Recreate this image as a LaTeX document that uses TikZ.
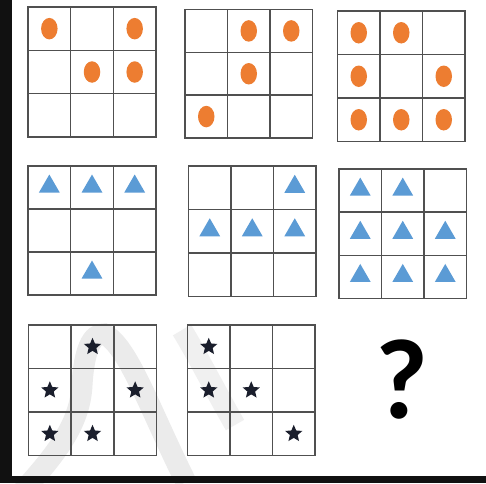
\documentclass[tikz,border=0pt]{standalone}
\usepackage{fontspec}
\newfontfamily\qfont{Carlito}
\usetikzlibrary{shapes.geometric}
\definecolor{dotor}{HTML}{ED7D31}
\definecolor{triblue}{HTML}{5B9BD5}
\definecolor{gridgray}{HTML}{505050}
\definecolor{starcol}{HTML}{1A1E2C}
\definecolor{edgeblack}{HTML}{111111}
\tikzset{
  gridline/.style={draw=gridgray, line width=1.4pt},
  dotmark/.style={ellipse, fill=dotor, inner sep=0pt, minimum width=16.5pt, minimum height=21.5pt},
  trimark/.style={regular polygon, regular polygon sides=3, fill=triblue, inner sep=0pt, minimum size=24pt, yshift=1pt},
  starmark/.style={star, star points=5, star point ratio=2.2, fill=starcol, inner sep=0pt, minimum size=18pt},
  watermark/.style={draw=black!8, line width=21pt},
}
\newcommand\drawgrid{%
  \draw[gridline] (0,0) rectangle (3,3);
  \draw[gridline] (1,0) -- (1,3) (2,0) -- (2,3) (0,1) -- (3,1) (0,2) -- (3,2);
}
\begin{document}
\begin{tikzpicture}[x=1pt, y=-1pt]
  \useasboundingbox (0,0) rectangle (486,483);
  \fill[white] (0,0) rectangle (486,483);
  % faint watermark
  \draw[watermark] (22,492) .. controls (55,455) and (80,425) .. (82,385) .. controls (84,350) and (92,333) .. (104,334) .. controls (128,345) and (150,410) .. (186,482);
  \draw[watermark, draw=black!6] (182,330) .. controls (200,360) and (215,390) .. (235,425);
  % dark edges
  \fill[edgeblack] (0,0) rectangle (12,483);
  \fill[edgeblack] (0,476) rectangle (486,483);

  % Row 1: dots
  \begin{scope}[shift={(28,7)}, x=42.67pt, y=-43.33pt]
    \drawgrid
    \foreach \r/\c [count=\n] in {0/0,0/2,1/1,1/2} \node[dotmark] (da\n) at (\c+0.5,\r+0.5) {};
  \end{scope}
  \begin{scope}[shift={(185,9.5)}, x=42.5pt, y=-42.83pt]
    \drawgrid
    \foreach \r/\c [count=\n] in {0/1,0/2,1/1,2/0} \node[dotmark] (db\n) at (\c+0.5,\r+0.5) {};
  \end{scope}
  \begin{scope}[shift={(337.5,11)}, x=42.5pt, y=-43.5pt]
    \drawgrid
    \foreach \r/\c [count=\n] in {0/0,0/1,1/0,1/2,2/0,2/1,2/2} \node[dotmark] (dc\n) at (\c+0.5,\r+0.5) {};
  \end{scope}

  % Row 2: triangles
  \begin{scope}[shift={(28,166)}, x=42.67pt, y=-43pt]
    \drawgrid
    \foreach \r/\c [count=\n] in {0/0,0/1,0/2,2/1} \node[trimark] (ta\n) at (\c+0.5,\r+0.5) {};
  \end{scope}
  \begin{scope}[shift={(188.5,166)}, x=42.5pt, y=-43.5pt]
    \drawgrid
    \foreach \r/\c [count=\n] in {0/2,1/0,1/1,1/2} \node[trimark] (tb\n) at (\c+0.5,\r+0.5) {};
  \end{scope}
  \begin{scope}[shift={(339,169)}, x=42.5pt, y=-43.17pt]
    \drawgrid
    \foreach \r/\c [count=\n] in {0/0,0/1,1/0,1/1,1/2,2/0,2/1,2/2} \node[trimark] (tc\n) at (\c+0.5,\r+0.5) {};
  \end{scope}

  % Row 3: stars
  \begin{scope}[shift={(28.5,325)}, x=42.67pt, y=-43.5pt]
    \drawgrid
    \foreach \r/\c [count=\n] in {0/1,1/0,1/2,2/0,2/1} \node[starmark] (sa\n) at (\c+0.5,\r+0.5) {};
  \end{scope}
  \begin{scope}[shift={(187.5,325)}, x=42.5pt, y=-43.5pt]
    \drawgrid
    \foreach \r/\c [count=\n] in {0/0,1/0,1/1,2/2} \node[starmark] (sb\n) at (\c+0.5,\r+0.5) {};
  \end{scope}

  \node[inner sep=0pt, text=black] (qm) at (401.5,380) {\qfont\bfseries\fontsize{114}{114}\selectfont ?};
\end{tikzpicture}
\end{document}
